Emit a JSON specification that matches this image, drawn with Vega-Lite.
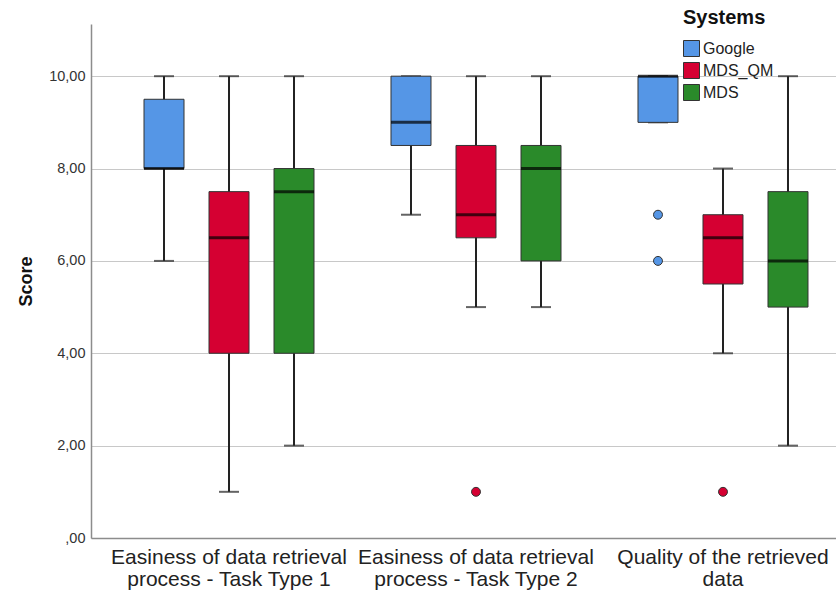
{
  "$schema": "https://vega.github.io/schema/vega-lite/v6.json",
  "autosize": {"type": "none"},
  "width": 745,
  "height": 514,
  "padding": {"left": 91, "top": 24, "right": 0, "bottom": 54},
  "background": "white",
  "config": {
    "view": {"stroke": null},
    "font": "Liberation Sans"
  },
  "datasets": {
    "boxes": [
      {"cat": "Easiness of data retrieval process - Task Type 1", "sys": "Google", "lo": 6, "q1": 8, "med": 8, "q3": 9.5, "hi": 10},
      {"cat": "Easiness of data retrieval process - Task Type 1", "sys": "MDS_QM", "lo": 1, "q1": 4, "med": 6.5, "q3": 7.5, "hi": 10},
      {"cat": "Easiness of data retrieval process - Task Type 1", "sys": "MDS", "lo": 2, "q1": 4, "med": 7.5, "q3": 8, "hi": 10},
      {"cat": "Easiness of data retrieval process - Task Type 2", "sys": "Google", "lo": 7, "q1": 8.5, "med": 9, "q3": 10, "hi": 10},
      {"cat": "Easiness of data retrieval process - Task Type 2", "sys": "MDS_QM", "lo": 5, "q1": 6.5, "med": 7, "q3": 8.5, "hi": 10},
      {"cat": "Easiness of data retrieval process - Task Type 2", "sys": "MDS", "lo": 5, "q1": 6, "med": 8, "q3": 8.5, "hi": 10},
      {"cat": "Quality of the retrieved data", "sys": "Google", "lo": 9, "q1": 9, "med": 10, "q3": 10, "hi": 10},
      {"cat": "Quality of the retrieved data", "sys": "MDS_QM", "lo": 4, "q1": 5.5, "med": 6.5, "q3": 7, "hi": 8},
      {"cat": "Quality of the retrieved data", "sys": "MDS", "lo": 2, "q1": 5, "med": 6, "q3": 7.5, "hi": 10}
    ],
    "outliers": [
      {"cat": "Easiness of data retrieval process - Task Type 2", "sys": "MDS_QM", "score": 1},
      {"cat": "Quality of the retrieved data", "sys": "Google", "score": 7},
      {"cat": "Quality of the retrieved data", "sys": "Google", "score": 6},
      {"cat": "Quality of the retrieved data", "sys": "MDS_QM", "score": 1}
    ]
  },
  "encoding": {
    "x": {
      "field": "cat", "type": "nominal",
      "sort": ["Easiness of data retrieval process - Task Type 1", "Easiness of data retrieval process - Task Type 2", "Quality of the retrieved data"],
      "scale": {"range": [0, 770], "paddingInner": 0.2105, "paddingOuter": 0.164},
      "axis": {
        "title": null, "labelAngle": 0, "ticks": false,
        "domainColor": "#8c8c8c", "domainWidth": 1.5,
        "labelFontSize": 21, "labelColor": "#222", "labelPadding": 8,
        "labelLineHeight": 22, "labelLimit": 400,
        "labelExpr": "indexof(datum.label, 'Easiness') == 0 ? ['Easiness of data retrieval', slice(datum.label, 27)] : ['Quality of the retrieved', 'data']"
      }
    },
    "xOffset": {
      "field": "sys", "type": "nominal",
      "sort": ["Google", "MDS_QM", "MDS"],
      "scale": {"domain": ["Google", "MDS_QM", "MDS"], "paddingInner": 0, "paddingOuter": 0}
    }
  },
  "layer": [
    {
      "data": {"name": "boxes"},
      "mark": {"type": "rule", "color": "#222", "strokeWidth": 2},
      "encoding": {
        "y": {
          "field": "lo", "type": "quantitative",
          "scale": {"domain": [0, 11.13], "nice": false, "zero": true},
          "axis": {
            "title": "Score", "titleFontSize": 18, "titleFontWeight": "bold", "titleColor": "#111",
            "titlePadding": 13,
            "values": [0, 2, 4, 6, 8, 10],
            "labelExpr": "datum.value == 0 ? ',00' : replace(format(datum.value, '.2f'), '.', ',')",
            "labelFontSize": 14.5, "labelColor": "#333", "labelPadding": 6,
            "ticks": false,
            "domainColor": "#8c8c8c", "domainWidth": 1.5,
            "grid": true, "gridColor": "#c8c8c8", "gridWidth": 1
          }
        },
        "y2": {"field": "hi"}
      }
    },
    {
      "data": {"name": "boxes"},
      "mark": {"type": "tick", "color": "#222", "thickness": 2, "size": 20},
      "encoding": {"y": {"field": "lo", "type": "quantitative"}}
    },
    {
      "data": {"name": "boxes"},
      "mark": {"type": "tick", "color": "#222", "thickness": 2, "size": 20},
      "encoding": {"y": {"field": "hi", "type": "quantitative"}}
    },
    {
      "data": {"name": "boxes"},
      "mark": {"type": "bar", "size": 40, "stroke": "#333", "strokeWidth": 1},
      "encoding": {
        "y": {"field": "q1", "type": "quantitative"},
        "y2": {"field": "q3"},
        "color": {
          "field": "sys", "type": "nominal",
          "scale": {"domain": ["Google", "MDS_QM", "MDS"], "range": ["#5596E6", "#D50032", "#2A8A2A"]},
          "legend": {
            "title": "Systems", "orient": "none", "legendX": 592, "legendY": -16,
            "titleFontSize": 20, "titleFontWeight": "bold", "titleColor": "#111", "titlePadding": 12,
            "labelFontSize": 16, "labelColor": "#222", "labelOffset": 3,
            "symbolType": "square", "symbolSize": 256, "symbolStrokeColor": "#333", "symbolStrokeWidth": 1,
            "rowPadding": 1
          }
        }
      }
    },
    {
      "data": {"name": "boxes"},
      "mark": {"type": "tick", "color": "#000", "thickness": 3, "size": 40},
      "encoding": {"y": {"field": "med", "type": "quantitative"}}
    },
    {
      "data": {"name": "outliers"},
      "mark": {"type": "point", "filled": true, "size": 80, "stroke": "#333", "strokeWidth": 1, "opacity": 1},
      "encoding": {
        "y": {"field": "score", "type": "quantitative"},
        "color": {"field": "sys", "type": "nominal"}
      }
    }
  ]
}
